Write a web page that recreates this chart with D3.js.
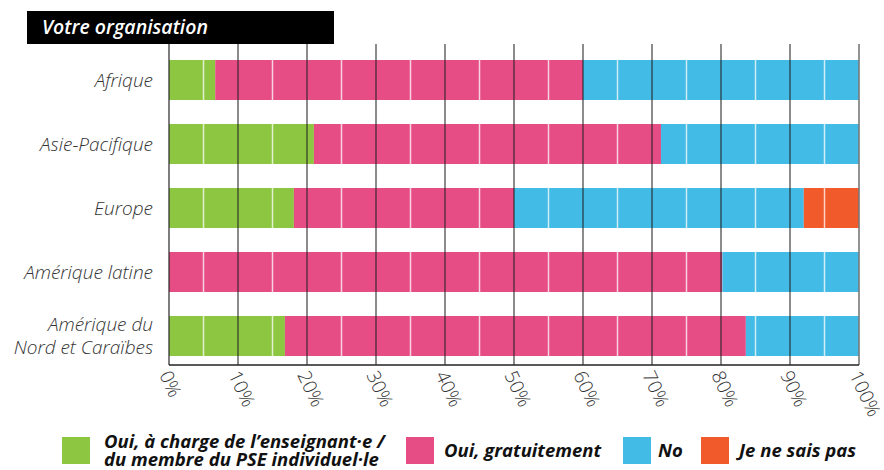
<!DOCTYPE html>
<html>
<head>
<meta charset="utf-8">
<script src="https://cdn.jsdelivr.net/npm/d3@7"></script>
<style>
  body { margin: 0; background: #fff; }
  svg { display: block; font-family: "Open Sans", sans-serif; }
</style>
</head>
<body>
<div id="chart"></div>
<script>
var width = 884,
  height = 470;

// data
var regions = ['Afrique', 'Asie-Pacifique', 'Europe', 'Amérique latine', 'Amérique du\nNord et Caraïbes'];
var series = ['Oui, à charge de l’enseignant·e /\ndu membre du PSE individuel·le', 'Oui, gratuitement', 'No', 'Je ne sais pas'];
var chargeValues = [6.7, 21.0, 18.1, 0, 16.8];
var gratuitValues = [53.3, 50.3, 31.9, 80.2, 66.8];
var noValues = [40.0, 28.7, 42.0, 19.8, 16.4];
var nspValues = [0, 0, 8.0, 0, 0];
var colors = ['#8dc641', '#e64d85', '#42bbe6', '#f15a2b'];
var ticks = [0, 10, 20, 30, 40, 50, 60, 70, 80, 90, 100];

var margin = { left: 169, right: 25, top: 44, bottom: 105 };

var svg = d3.select('#chart').append('svg')
  .attr('width', width)
  .attr('height', height);

var x = d3.scaleLinear().domain([0, 100]).range([margin.left, width - margin.right]);
var y = d3.scaleBand().domain(regions).range([48, 368]).paddingInner(0.375).paddingOuter(0.1875);

var valuesBySeries = [chargeValues, gratuitValues, noValues, nspValues];
var rows = regions.map(function(r, i) {
  var acc = 0;
  return valuesBySeries.map(function(vals, s) {
    var seg = { region: r, s: s, x0: acc, x1: acc + vals[i] };
    acc += vals[i];
    return seg;
  });
});

// bars
var bars = svg.append('g').attr('class', 'bars');
bars.selectAll('g')
  .data(rows)
  .enter().append('g')
  .selectAll('rect')
  .data(function(d) { return d.filter(function(e) { return e.x1 > e.x0; }); })
  .enter().append('rect')
  .attr('x', function(d) { return x(d.x0); })
  .attr('width', function(d) { return x(d.x1) - x(d.x0); })
  .attr('y', function(d) { return y(d.region); })
  .attr('height', y.bandwidth())
  .attr('fill', function(d) { return colors[d.s]; });

// white minor lines at 5%, 15%, ...
var minor = d3.range(5, 100, 10);
regions.forEach(function(r) {
  bars.selectAll(null)
    .data(minor)
    .enter().append('line')
    .attr('x1', function(d) { return x(d); })
    .attr('x2', function(d) { return x(d); })
    .attr('y1', y(r))
    .attr('y2', y(r) + y.bandwidth())
    .attr('stroke', '#fff')
    .attr('stroke-opacity', 0.75)
    .attr('stroke-width', 1.5);
});

// gridlines on top
svg.append('g').selectAll('line')
  .data(ticks)
  .enter().append('line')
  .attr('x1', function(d) { return x(d); })
  .attr('x2', function(d) { return x(d); })
  .attr('y1', margin.top)
  .attr('y2', 365)
  .attr('stroke', function(d) { return d === 100 ? '#777' : '#222'; })
  .attr('stroke-opacity', function(d) { return d === 0 ? 0.9 : 0.8; })
  .attr('stroke-width', function(d) { return d === 100 ? 2 : 1.3; });

svg.append('line')
  .attr('x1', x(0)).attr('x2', x(100))
  .attr('y1', 365).attr('y2', 365)
  .attr('stroke', '#222').attr('stroke-width', 1.3);

// x tick labels, rotated
svg.append('g').selectAll('text')
  .data(ticks)
  .enter().append('text')
  .attr('transform', function(d) { return 'translate(' + (x(d) - 4) + ',372) rotate(65)'; })
  .attr('dy', '0.35em')
  .attr('font-size', 19)
  .attr('font-weight', 300)
  .attr('fill', '#333')
  .text(function(d) { return d + '%'; });

// y labels
var ylab = svg.append('g').selectAll('text')
  .data(regions)
  .enter().append('text')
  .attr('text-anchor', 'end')
  .attr('font-size', 19)
  .attr('font-style', 'italic')
  .attr('font-weight', 300)
  .attr('fill', '#333')
  .attr('x', 153)
  .attr('y', function(d) {
    var n = d.split('\n').length;
    return y(d) + y.bandwidth() / 2 - (n - 1) * 11.5;
  });
ylab.selectAll('tspan')
  .data(function(d) { return d.split('\n'); })
  .enter().append('tspan')
  .attr('x', 153)
  .attr('dy', function(d, i) { return i === 0 ? '0.35em' : 23; })
  .text(function(d) { return d; });

// title box
svg.append('rect')
  .attr('x', 27).attr('y', 11)
  .attr('width', 307).attr('height', 33)
  .attr('fill', '#000');
svg.append('text')
  .attr('x', 42).attr('y', 34)
  .attr('fill', '#fff')
  .attr('font-size', 19.5)
  .attr('font-style', 'italic')
  .attr('font-weight', 600)
  .text('Votre organisation');

// legend
var legendX = [62, 406, 623, 701];
var textDX = [42, 38, 35, 38];
var leg = svg.append('g').selectAll('g')
  .data(series)
  .enter().append('g')
  .attr('transform', function(d, i) { return 'translate(' + legendX[i] + ',437)'; });
leg.append('rect')
  .attr('width', 28).attr('height', 27)
  .attr('fill', function(d, i) { return colors[i]; });
var lt = leg.append('text')
  .attr('x', function(d, i) { return textDX[i]; })
  .attr('font-size', 18.5)
  .attr('font-style', 'italic')
  .attr('font-weight', 700)
  .attr('fill', '#111')
  .attr('y', function(d) { return d.indexOf('\n') >= 0 ? 11 : 20; });
lt.selectAll('tspan')
  .data(function(d, i) { return d.split('\n').map(function(s) { return { s: s, dx: textDX[i] }; }); })
  .enter().append('tspan')
  .attr('x', function(d) { return d.dx; })
  .attr('dy', function(d, i) { return i === 0 ? 0 : 17.5; })
  .text(function(d) { return d.s; });
</script>
</body>
</html>
